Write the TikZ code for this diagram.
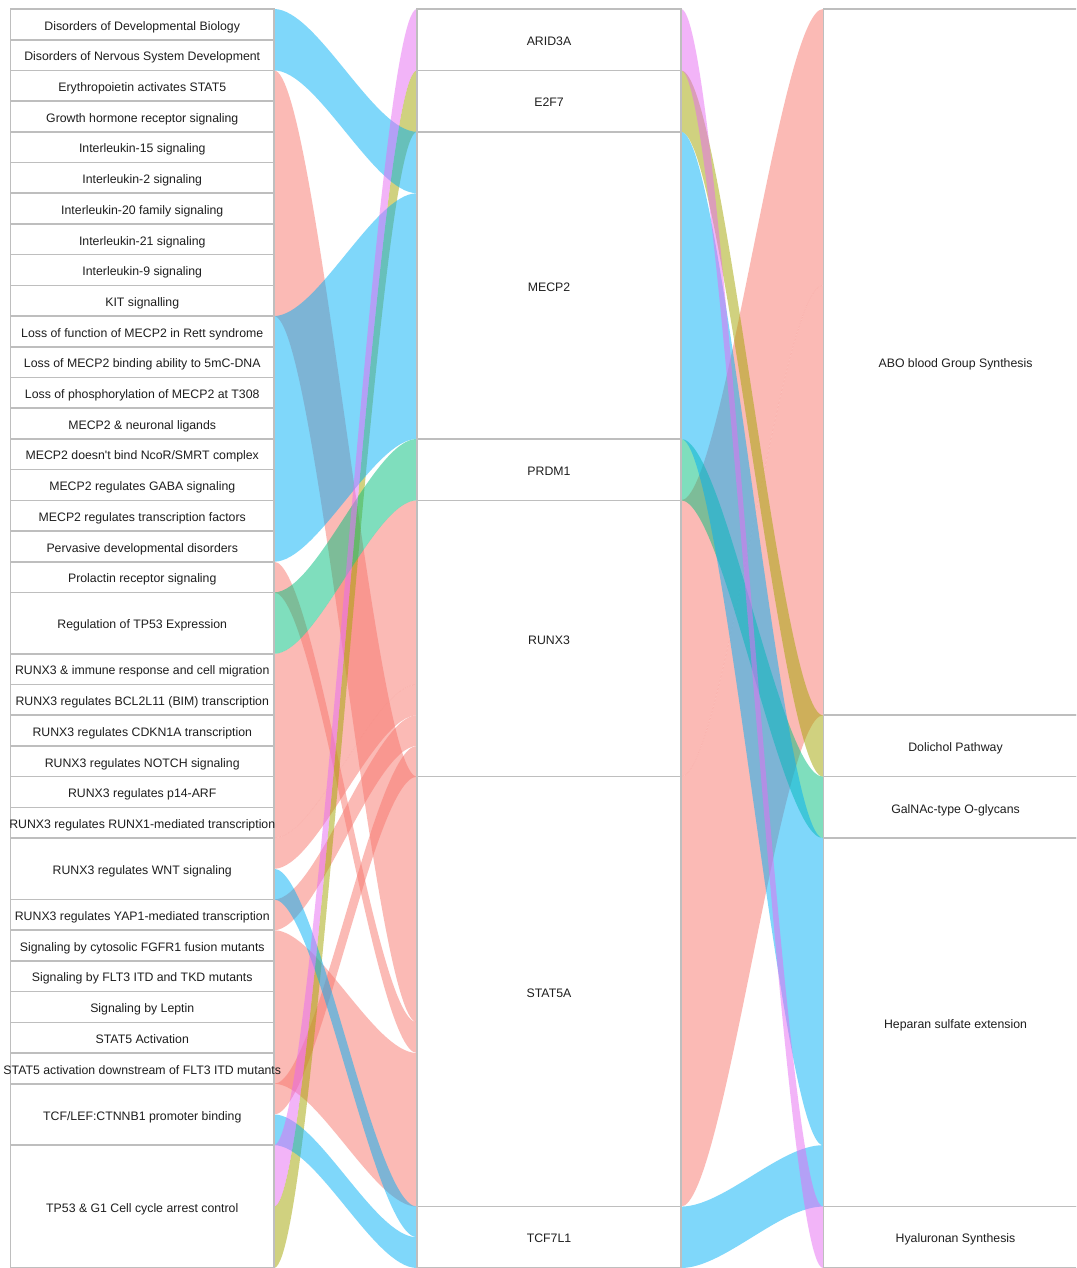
\documentclass[tikz,border=0pt]{standalone}
\usepackage{fontspec}
\setmainfont{Liberation Sans}
\definecolor{cpink}{HTML}{F8766D}
\definecolor{colive}{HTML}{A3A500}
\definecolor{cgreen}{HTML}{00BF7D}
\definecolor{cblue}{HTML}{00B0F6}
\definecolor{cviolet}{HTML}{E76BF3}
\definecolor{boxline}{HTML}{BEBEBE}
\definecolor{txtcol}{HTML}{1E1E1E}
\tikzset{
  box/.style={draw=boxline, line width=1.6pt, fill=white, inner sep=0pt, outer sep=0pt},
  txt/.style={font=\fontsize{12.3}{14}\selectfont, text=txtcol, inner sep=0pt, text height=8.8pt, text depth=0pt, yshift=-1.3pt},
  bandfill/.style={fill=#1, fill opacity=0.5},
}
% name, xcenter, width, k0, k1, text
\newcommand\colbox[6]{%
  \node[box, minimum width=#3pt, minimum height={(#5-#4)*30.707pt}] (#1) at (#2,{9+(#4+#5)*15.3535}) {};
  \node[txt] (#1-t) at (#1.center) {#6};
}
% x1, x2, ka, kb (left units), kc, kd (right units), colour
\newcommand\flowband[7]{%
  \pgfmathsetmacro\fbya{9+#3*30.707}%
  \pgfmathsetmacro\fbyb{9+#4*30.707}%
  \pgfmathsetmacro\fbyc{9+#5*30.707}%
  \pgfmathsetmacro\fbyd{9+#6*30.707}%
  \pgfmathsetmacro\fbxc{#1+0.3*(#2-#1)}%
  \pgfmathsetmacro\fbxd{#2-0.3*(#2-#1)}%
  \fill[bandfill=#7] (#1,\fbya) .. controls (\fbxc,\fbya) and (\fbxd,\fbyc) .. (#2,\fbyc)
     -- (#2,\fbyd) .. controls (\fbxd,\fbyd) and (\fbxc,\fbyb) .. (#1,\fbyb) -- cycle;
}
\begin{document}
\begin{tikzpicture}[x=1pt,y=-1pt]
\useasboundingbox (0,0) rectangle (1076,1268);
\clip (0,0) rectangle (1076,1268);
\fill[white] (0,0) rectangle (1076,1268);

% ---- left -> middle flows ----
% pink (ABO)
\flowband{274}{417}{2}{10}{25}{33}{cpink}
\flowband{274}{417}{18}{19}{33}{34}{cpink}
\flowband{274}{417}{21}{27}{16}{22}{cpink}
\flowband{274}{417}{27}{28}{22}{23}{cpink}
\flowband{274}{417}{29}{30}{23}{24}{cpink}
\flowband{274}{417}{30}{35}{34}{39}{cpink}
\flowband{274}{417}{35}{36}{24}{25}{cpink}
% olive (Dolichol)
\flowband{274}{417}{39}{41}{2}{4}{colive}
% green (GalNAc)
\flowband{274}{417}{19}{21}{14}{16}{cgreen}
% blue (Heparan)
\flowband{274}{417}{0}{2}{4}{6}{cblue}
\flowband{274}{417}{10}{18}{6}{14}{cblue}
\flowband{274}{417}{28}{29}{39}{40}{cblue}
\flowband{274}{417}{36}{37}{40}{41}{cblue}
% violet (Hyaluronan)
\flowband{274}{417}{37}{39}{0}{2}{cviolet}

% ---- middle -> right flows ----
\flowband{681}{823}{16}{25}{0}{9}{cpink}
\flowband{681}{823}{25}{39}{9}{23}{cpink}
\flowband{681}{823}{2}{4}{23}{25}{colive}
\flowband{681}{823}{14}{16}{25}{27}{cgreen}
\flowband{681}{823}{4}{14}{27}{37}{cblue}
\flowband{681}{823}{39}{41}{37}{39}{cblue}
\flowband{681}{823}{0}{2}{39}{41}{cviolet}

% ---- left column ----
\colbox{l1}{142.25}{263.5}{0}{1}{Disorders of Developmental Biology}
\colbox{l2}{142.25}{263.5}{1}{2}{Disorders of Nervous System Development}
\colbox{l3}{142.25}{263.5}{2}{3}{Erythropoietin activates STAT5}
\colbox{l4}{142.25}{263.5}{3}{4}{Growth hormone receptor signaling}
\colbox{l5}{142.25}{263.5}{4}{5}{Interleukin-15 signaling}
\colbox{l6}{142.25}{263.5}{5}{6}{Interleukin-2 signaling}
\colbox{l7}{142.25}{263.5}{6}{7}{Interleukin-20 family signaling}
\colbox{l8}{142.25}{263.5}{7}{8}{Interleukin-21 signaling}
\colbox{l9}{142.25}{263.5}{8}{9}{Interleukin-9 signaling}
\colbox{l10}{142.25}{263.5}{9}{10}{KIT signalling}
\colbox{l11}{142.25}{263.5}{10}{11}{Loss of function of MECP2 in Rett syndrome}
\colbox{l12}{142.25}{263.5}{11}{12}{Loss of MECP2 binding ability to 5mC-DNA}
\colbox{l13}{142.25}{263.5}{12}{13}{Loss of phosphorylation of MECP2 at T308}
\colbox{l14}{142.25}{263.5}{13}{14}{MECP2 \& neuronal ligands}
\colbox{l15}{142.25}{263.5}{14}{15}{MECP2 doesn\textquotesingle t bind NcoR/SMRT complex}
\colbox{l16}{142.25}{263.5}{15}{16}{MECP2 regulates GABA signaling}
\colbox{l17}{142.25}{263.5}{16}{17}{MECP2 regulates transcription factors}
\colbox{l18}{142.25}{263.5}{17}{18}{Pervasive developmental disorders}
\colbox{l19}{142.25}{263.5}{18}{19}{Prolactin receptor signaling}
\colbox{l20}{142.25}{263.5}{19}{21}{Regulation of TP53 Expression}
\colbox{l21}{142.25}{263.5}{21}{22}{RUNX3 \& immune response and cell migration}
\colbox{l22}{142.25}{263.5}{22}{23}{RUNX3 regulates BCL2L11 (BIM) transcription}
\colbox{l23}{142.25}{263.5}{23}{24}{RUNX3 regulates CDKN1A transcription}
\colbox{l24}{142.25}{263.5}{24}{25}{RUNX3 regulates NOTCH signaling}
\colbox{l25}{142.25}{263.5}{25}{26}{RUNX3 regulates p14-ARF}
\colbox{l26}{142.25}{263.5}{26}{27}{RUNX3 regulates RUNX1-mediated transcription}
\colbox{l27}{142.25}{263.5}{27}{29}{RUNX3 regulates WNT signaling}
\colbox{l28}{142.25}{263.5}{29}{30}{RUNX3 regulates YAP1-mediated transcription}
\colbox{l29}{142.25}{263.5}{30}{31}{Signaling by cytosolic FGFR1 fusion mutants}
\colbox{l30}{142.25}{263.5}{31}{32}{Signaling by FLT3 ITD and TKD mutants}
\colbox{l31}{142.25}{263.5}{32}{33}{Signaling by Leptin}
\colbox{l32}{142.25}{263.5}{33}{34}{STAT5 Activation}
\colbox{l33}{142.25}{263.5}{34}{35}{STAT5 activation downstream of FLT3 ITD mutants}
\colbox{l34}{142.25}{263.5}{35}{37}{TCF/LEF:CTNNB1 promoter binding}
\colbox{l35}{142.25}{263.5}{37}{41}{TP53 \& G1 Cell cycle arrest control}

% ---- middle column ----
\colbox{m1}{549}{264}{0}{2}{ARID3A}
\colbox{m2}{549}{264}{2}{4}{E2F7}
\colbox{m3}{549}{264}{4}{14}{MECP2}
\colbox{m4}{549}{264}{14}{16}{PRDM1}
\colbox{m5}{549}{264}{16}{25}{RUNX3}
\colbox{m6}{549}{264}{25}{39}{STAT5A}
\colbox{m7}{549}{264}{39}{41}{TCF7L1}

% ---- right column ----
\colbox{r1}{955.5}{264}{0}{23}{ABO blood Group Synthesis}
\colbox{r2}{955.5}{264}{23}{25}{Dolichol Pathway}
\colbox{r3}{955.5}{264}{25}{27}{GalNAc-type O-glycans}
\colbox{r4}{955.5}{264}{27}{39}{Heparan sulfate extension}
\colbox{r5}{955.5}{264}{39}{41}{Hyaluronan Synthesis}
\end{tikzpicture}
\end{document}
